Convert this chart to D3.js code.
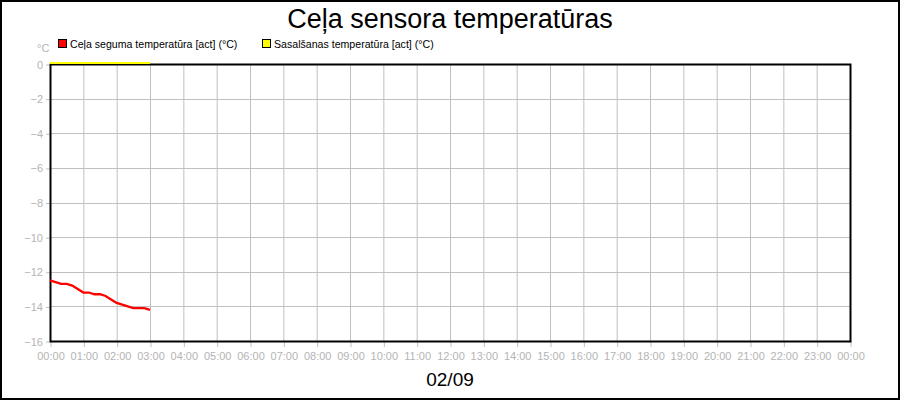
<!DOCTYPE html>
<html>
<head>
<meta charset="utf-8">
<script src="https://cdn.jsdelivr.net/npm/d3@7"></script>
<style>
  body { margin: 0; background: #fff; }
  svg { display: block; font-family: "Liberation Sans", Arial, sans-serif; }
</style>
</head>
<body>
<script>
'use strict';

// minutes after midnight, every 10 minutes
let times = [0, 10, 20, 30, 40, 50, 60, 70, 80, 90, 100, 110, 120, 130, 140, 150, 160, 170, 180];
// road surface temperature (red)
let roadTemp = [-12.5, -12.6, -12.7, -12.7, -12.8, -13.0, -13.2, -13.2, -13.3, -13.3, -13.4, -13.6, -13.8, -13.9, -14.0, -14.1, -14.1, -14.1, -14.2];
// freezing temperature (yellow)
let freezeTemp = [0, 0, 0, 0, 0, 0, 0, 0, 0, 0, 0, 0, 0, 0, 0, 0, 0, 0, 0];
let yTicks = [0, -2, -4, -6, -8, -10, -12, -14, -16];
let xTicks = d3.range(0, 25 * 60, 60);
let seriesNames = ["Ceļa seguma temperatūra [act] (°C)", "Sasalšanas temperatūra [act] (°C)"];
let seriesColors = ["#ff0000", "#ffff00"];

let svg = d3.select('body').append('svg')
  .attr('width', 900)
  .attr('height', 400);

// outer border
svg.append('rect')
  .attr('x', 1).attr('y', 1)
  .attr('width', 898).attr('height', 398)
  .attr('fill', '#fff')
  .attr('stroke', '#000')
  .attr('stroke-width', 2);

let xScale = d3.scaleLinear().domain([0, 24 * 60]).range([50, 850]);
let yScale = d3.scaleLinear().domain([0, -16]).range([64, 341]);

// grid
svg.append('g').selectAll('line')
  .data(xTicks)
  .enter().append('line')
    .attr('x1', d => xScale(d) + 0.5).attr('x2', d => xScale(d) + 0.5)
    .attr('y1', 64).attr('y2', 341)
    .attr('stroke', '#c0c0c0');
svg.append('g').selectAll('line')
  .data(yTicks)
  .enter().append('line')
    .attr('x1', 50).attr('x2', 850)
    .attr('y1', d => Math.round(yScale(d)) + 0.5).attr('y2', d => Math.round(yScale(d)) + 0.5)
    .attr('stroke', '#c0c0c0');

// axes
let fmt = m => d3.format('02d')(Math.floor(m / 60) % 24) + ':00';
let xAxis = d3.axisBottom(xScale).tickValues(xTicks).tickFormat(fmt).tickSize(6).tickSizeOuter(0);
let gx = svg.append('g').attr('transform', 'translate(0.5, 341)').call(xAxis);
let yAxis = d3.axisLeft(yScale).tickValues(yTicks).tickSize(4).tickSizeOuter(0);
let gy = svg.append('g').attr('transform', 'translate(50, 0.5)').call(yAxis);
[gx, gy].forEach(g => {
  g.select('.domain').remove();
  g.selectAll('line').attr('stroke', '#c0c0c0');
  g.selectAll('text').attr('fill', '#b4b4b4').style('font-size', '11px');
});
gx.selectAll('text').attr('dy', '0.9em');

// plot frame
svg.append('rect')
  .attr('x', 50.5).attr('y', 64.5)
  .attr('width', 800).attr('height', 277)
  .attr('fill', 'none')
  .attr('stroke', '#000')
  .attr('stroke-width', 2);

// series lines
let line = d3.line()
  .x((d, i) => xScale(times[i]))
  .y(d => yScale(d));
svg.append('path')
  .datum(freezeTemp)
  .attr('d', line)
  .attr('transform', 'translate(0, -1)')
  .attr('fill', 'none')
  .attr('stroke', seriesColors[1])
  .attr('stroke-width', 2);
svg.append('path')
  .datum(roadTemp)
  .attr('d', line)
  .attr('fill', 'none')
  .attr('stroke', seriesColors[0])
  .attr('stroke-width', 2.3);

// title
svg.append('text')
  .attr('x', 450).attr('y', 28)
  .attr('text-anchor', 'middle')
  .style('font-size', '27px')
  .text('Ceļa sensora temperatūras');

// legend
let legendX = [58, 262];
seriesNames.forEach((name, i) => {
  svg.append('rect')
    .attr('x', legendX[i] + 0.5).attr('y', 39.5)
    .attr('width', 8).attr('height', 8)
    .attr('fill', seriesColors[i])
    .attr('stroke', '#000');
  svg.append('text')
    .attr('x', legendX[i] + 12).attr('y', 48)
    .style('font-size', '10.6px')
    .text(name);
});

// unit
svg.append('text')
  .attr('x', 37).attr('y', 52)
  .attr('fill', '#b4b4b4')
  .style('font-size', '11px')
  .text('°C');

// date label
svg.append('text')
  .attr('x', 450).attr('y', 386)
  .attr('text-anchor', 'middle')
  .style('font-size', '19px')
  .text('02/09');
</script>
</body>
</html>
